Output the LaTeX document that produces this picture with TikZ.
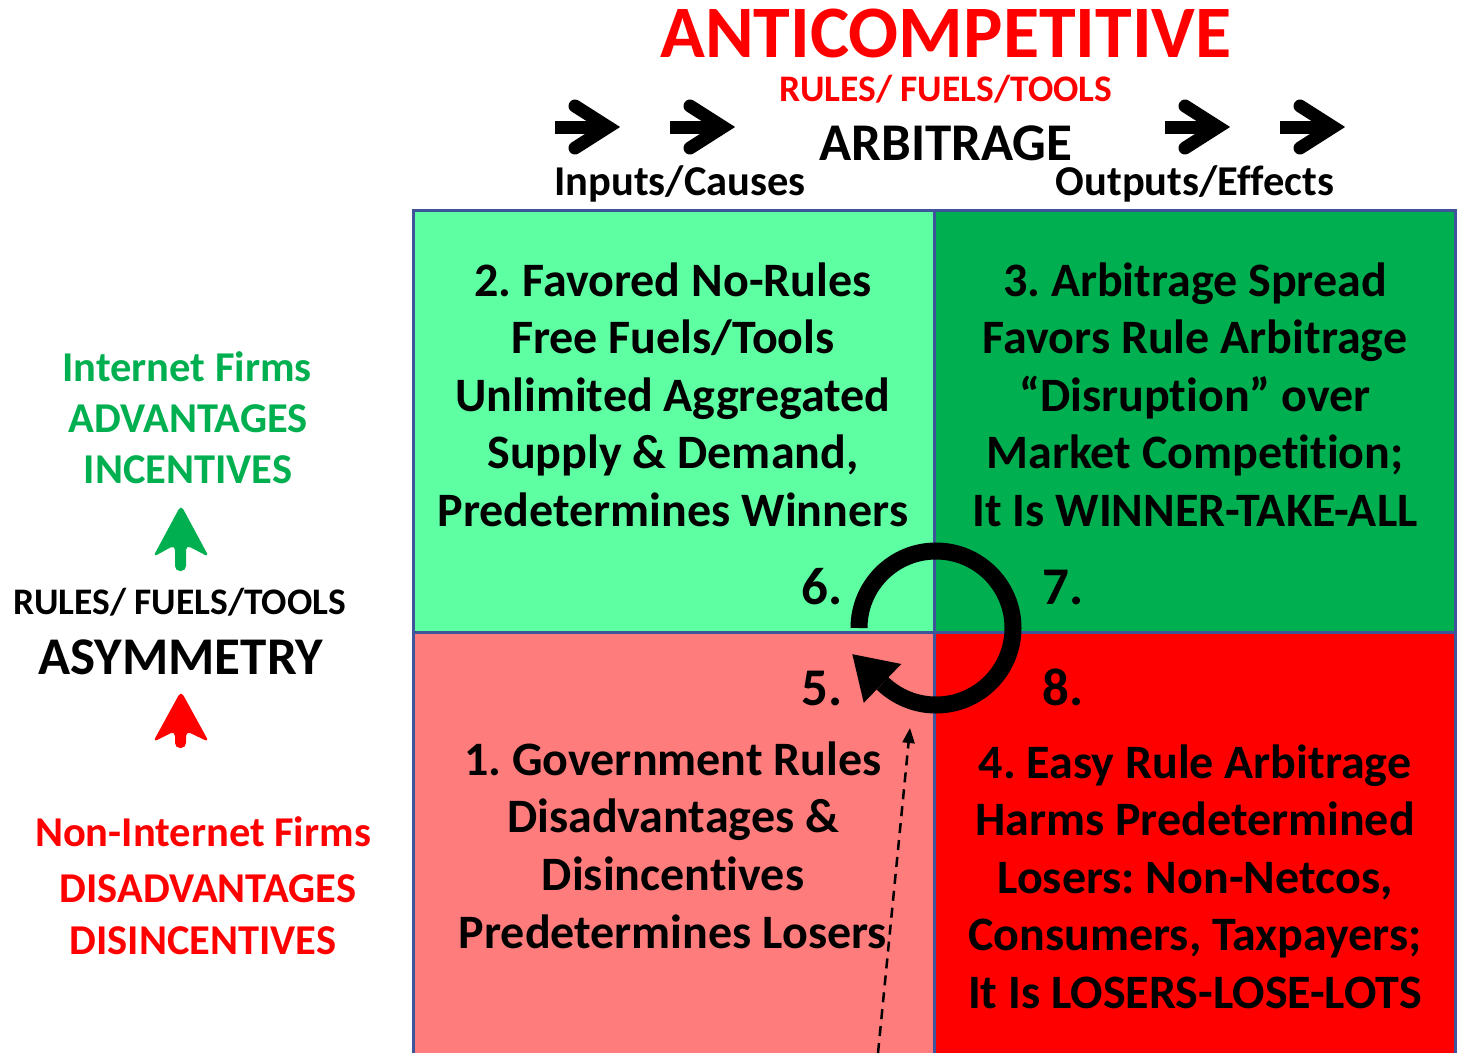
\documentclass[tikz,border=0pt]{standalone}
\usepackage{fontspec}
\setmainfont{Carlito}[Ligatures=NoCommon]
\usetikzlibrary{arrows.meta,calc}
\definecolor{lgreen}{RGB}{94,255,163}
\definecolor{dgreen}{RGB}{0,176,80}
\definecolor{pinkred}{RGB}{255,124,124}
\definecolor{fullred}{RGB}{255,0,0}
\definecolor{gridblue}{RGB}{63,84,155}
\newcommand{\fsz}[1]{\fontsize{#1}{#1}\selectfont}
\frenchspacing
\tikzset{
  txt/.style={inner sep=0pt, anchor=base, font=\bfseries},
  boxtxt/.style={txt, font=\bfseries\fsz{48}},
  numtxt/.style={txt, font=\bfseries\fsz{53}},
  gridline/.style={draw=gridblue, line width=3pt},
  chev/.style={line width=13pt, line cap=round, line join=miter},
  shaft/.style={line width=13pt},
  uparrow/.style={rounded corners=5pt, draw=none},
  loopline/.style={line width=17pt},
  dashedarrow/.style={line width=2.5pt, dash pattern=on 10pt off 7pt, -{Triangle[length=15pt,width=12pt]}}
}
\begin{document}
\begin{tikzpicture}[x=1pt,y=-1pt]
\useasboundingbox[fill=white] (0,0) rectangle (1458,1053);
% quadrants
\fill[lgreen] (413,210) rectangle (934,632);
\fill[dgreen] (934,210) rectangle (1455,632);
\fill[pinkred] (413,632) rectangle (934,1053);
\fill[fullred] (934,632) rectangle (1455,1053);
\draw[gridline] (413,1053) -- (413,210) -- (1455,210) -- (1455,1053);
\draw[gridline] (413,632) -- (1455,632);
\draw[gridline] (934,210) -- (934,1053);

% header
\node[txt, text=fullred, font=\bfseries\fsz{74}] (anti) at (946,57) {ANTICOMPETITIVE};
\node[txt, text=fullred, font=\bfseries\fsz{37.5}] (rft) at (946,101) {RULES/ FUELS/TOOLS};
\node[txt, font=\bfseries\fsz{53}] (arb) at (946,160) {ARBITRAGE};
\node[txt, font=\bfseries\fsz{42.5}] (inp) at (680,195) {Inputs/Causes};
\node[txt, font=\bfseries\fsz{42.5}] (outp) at (1195,195) {Outputs/Effects};

% header arrows
\foreach \x [count=\i] in {555,670,1165,1280}{
  \draw[shaft] (\x,127) -- (\x+46,127);
  \draw[chev] (\x+20,106) -- (\x+53,127) -- (\x+20,148);
}

% quadrant texts
\foreach \t [count=\i] in {2. Favored No-Rules, Free Fuels/Tools, Unlimited Aggregated, {Supply \& Demand,}, Predetermines Winners}
  \node[boxtxt] (tl\i) at (673,{296+57.5*(\i-1)}) {\t};
\foreach \t [count=\i] in {3. Arbitrage Spread, Favors Rule Arbitrage, “Disruption” over, Market Competition;, It Is WINNER-TAKE-ALL}
  \node[boxtxt] (tr\i) at (1195,{296+57.5*(\i-1)}) {\t};
\foreach \t [count=\i] in {1. Government Rules, Disadvantages \&, Disincentives, Predetermines Losers}
  \node[boxtxt] (bl\i) at (673,{775+57.7*(\i-1)}) {\t};
\foreach \t [count=\i] in {4. Easy Rule Arbitrage, Harms Predetermined, {Losers: Non-Netcos,}, {Consumers, Taxpayers;}, It Is LOSERS-LOSE-LOTS}
  \node[boxtxt] (br\i) at (1195,{778+57.5*(\i-1)}) {\t};

% numbers
\node[numtxt] (n6) at (822,604) {6.};
\node[numtxt] (n7) at (1063,604) {7.};
\node[numtxt] (n5) at (822,705) {5.};
\node[numtxt] (n8) at (1063,705) {8.};

% cycle arrow
\coordinate (cyc) at (936,628);
\draw[loopline] ($(cyc)+(-77,0)$) arc[start angle=180, end angle=494, radius=77];
\fill ($(cyc)+(494:77)+(-0.695*27,0.719*27)$) -- ($(cyc)+(494:77)+(-0.719*42,-0.695*42)$) -- ($(cyc)+(494:77)+(0.695*27,-0.719*27)$) -- cycle;

% dashed arrow
\coordinate (dstart) at (878,1053);
\coordinate (dend) at (910,728);
\draw[dashedarrow] (dstart) -- (dend);

% left labels
\node[txt, text=dgreen, font=\bfseries\fsz{42.5}] (if1) at (187,381) {Internet Firms};
\node[txt, text=dgreen, font=\bfseries\fsz{42.5}] (if2) at (188,432) {ADVANTAGES};
\node[txt, text=dgreen, font=\bfseries\fsz{42.5}] (if3) at (188,483) {INCENTIVES};
\node[txt, font=\bfseries\fsz{37.5}] (lrft) at (180,614) {RULES/ FUELS/TOOLS};
\node[txt, font=\bfseries\fsz{53}] (asym) at (181,674) {ASYMMETRY};
\node[txt, text=fullred, font=\bfseries\fsz{42.5}] (nif1) at (203,846) {Non-Internet Firms};
\node[txt, text=fullred, font=\bfseries\fsz{42.5}] (nif2) at (208,902) {DISADVANTAGES};
\node[txt, text=fullred, font=\bfseries\fsz{42.5}] (nif3) at (203,954) {DISINCENTIVES};

% up arrows
\fill[dgreen, uparrow] (181,505) -- (209,557) -- (186,545) -- (186,571) -- (175,571) -- (175,545) -- (153,557) -- cycle;
\fill[fullred, uparrow] (181,691) -- (209,742) -- (186,731) -- (186,748) -- (175,748) -- (175,731) -- (153,742) -- cycle;
\end{tikzpicture}
\end{document}
